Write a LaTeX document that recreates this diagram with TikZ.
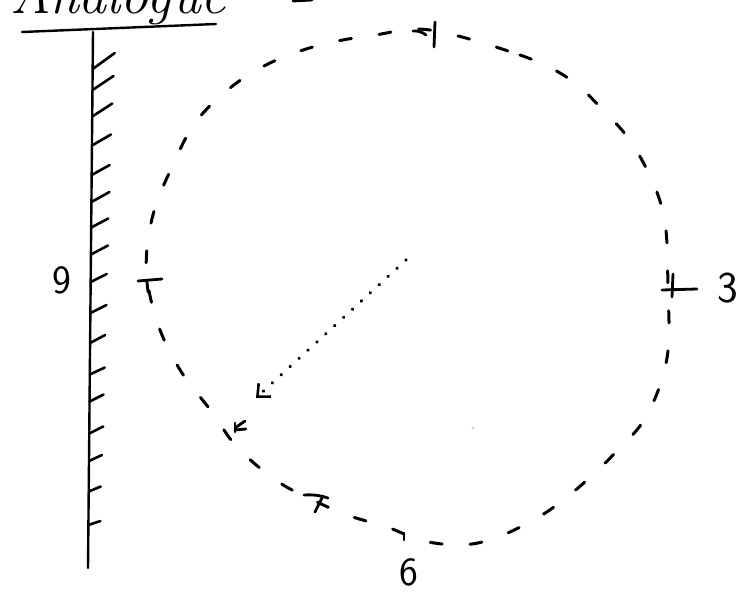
\documentclass[tikz,border=0pt]{standalone}
\usepackage{tikz}
\usetikzlibrary{arrows.meta}

\begin{document}
\begin{tikzpicture}[
  x=1pt, y=-1pt,
  pen/.style={line width=2.8pt, line cap=round, line join=round},
  dial/.style={pen, line width=3pt, dash pattern=on 12pt off 28pt},
  hand/.style={pen, line width=3.6pt, dash pattern=on 0.1pt off 12pt},
  numeral/.style={inner sep=0pt, font=\fontsize{40}{40}\selectfont\sffamily}
]
  \useasboundingbox (0,0) rectangle (750,592);
  \clip (0,0) rectangle (750,592);

  % heading, cut off at the top
  \node[anchor=base west, inner sep=0pt, font=\fontsize{56}{56}\selectfont\itshape] (title) at (10,13) {Analogue};
  \draw[pen, line width=2.4pt] (22,32) -- (216,24);
  \draw[pen] (293,1) -- (312,0);

  % ruler
  \coordinate (rtop) at (93,32);
  \coordinate (rbottom) at (88,568);
  \draw[pen, line width=2.4pt] (rtop) -- (rbottom);
  \foreach \y/\dx/\dy in {61/22/16, 83/21/14, 110/20/13, 140/19/11, 170/18/10, 197/18/10,
      223/17/9, 250/17/9, 278/16/8, 309/16/8, 339/15/8, 371/15/7, 398/14/7,
      430/14/7, 458/13/6, 489/12/5, 523/12/4}
    \draw[pen, line width=2.6pt] ({93-5*(\y-32)/536}, {\y+\dy/2}) -- ++(\dx,-\dy);
  \node[numeral] (nine) at (62,280) {9};

  % dial
  \draw[dial] plot[smooth cycle, tension=0.6] coordinates {
    (430,30) (520,55) (568,78) (600,107) (635,148) (663,212) (668,290)
    (667,358) (647,415) (615,453) (572,493) (530,522) (478,543) (428,542)
    (387,527) (350,516) (317,502) (277,481) (237,447) (212,412) (182,373)
    (160,330) (148,285) (147,248) (155,208) (172,167) (195,123) (230,88)
    (270,63) (320,45) (375,35)};

  % hour marks
  \draw[pen] (413,31) to[bend left=20] (426,35);
  \draw[pen] (435,22) -- (434,47);
  \draw[pen] (662,290) -- (697,289);
  \draw[pen] (673,274) -- (672,297);
  \node[numeral, font=\fontsize{44}{44}\selectfont\sffamily] (three) at (728,288) {3};
  \draw[pen] (138,281) -- (162,279);
  \draw[pen] (147,282) -- (148,292);
  \draw[pen] (404,533) -- (404,540);
  \node[numeral] (six) at (409,572) {6};
  \draw[pen] (235,423) -- (235,432);
  \draw[pen] (235,428) -- (245,421);
  \draw[pen] (235,430) -- (246,429);
  \draw[pen] (304,495) to[bend left=10] (328,498);
  \draw[pen] (323,496) -- (315,512);
  \fill[gray!40] (473,428) circle (1.3);

  % hand
  \coordinate (pivot) at (406,260);
  \coordinate (tip) at (256,398);
  \draw[hand, -{Straight Barb[length=10pt, width=18pt, line width=2.6pt]}] (pivot) -- (tip);
\end{tikzpicture}
\end{document}
